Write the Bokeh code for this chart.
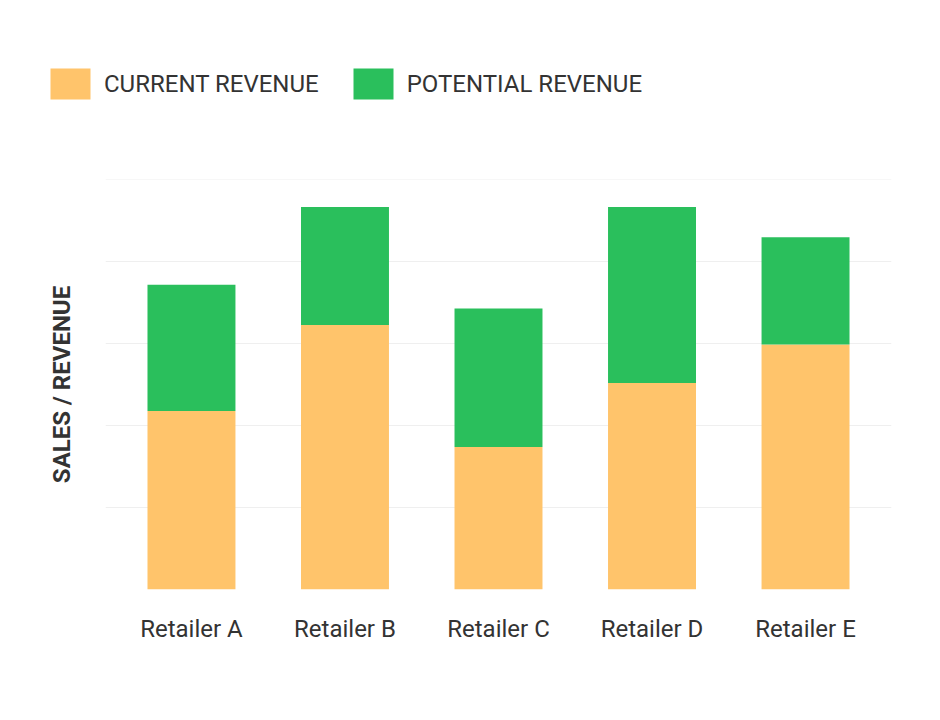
from bokeh.plotting import figure
from bokeh.layouts import column
from bokeh.models import FactorRange, Range1d, FixedTicker, Legend, LegendItem, ColumnDataSource
from bokeh.embed import file_html
from bokeh.resources import INLINE

retailers = ["Retailer A", "Retailer B", "Retailer C", "Retailer D", "Retailer E"]
current_revenue = [21.8, 32.3, 17.4, 25.2, 29.9]
potential_revenue = [15.4, 14.4, 16.9, 21.5, 13.1]
series = ["current", "potential"]
series_labels = ["CURRENT REVENUE", "POTENTIAL REVENUE"]
colors = ["#FFC46B", "#2ABF5C"]
y_ticks = [0, 10, 20, 30, 40, 50]

FONT = "Roboto"
TXT = "#333333"

source = ColumnDataSource(data=dict(x=retailers, current=current_revenue, potential=potential_revenue))

# legend figure
lg = figure(width=940, height=120, output_backend="svg", toolbar_location=None,
            x_range=Range1d(0, 1), y_range=Range1d(0, 1),
            min_border_left=45, min_border_right=0, min_border_top=64, min_border_bottom=0)
lg.frame_align = False
lg.axis.visible = False
lg.grid.visible = False
lg.outline_line_color = None
dummy = ColumnDataSource(data=dict(x=[1000], top=[1000]))
items = []
for lab, col in zip(series_labels, colors):
    r = lg.vbar(x="x", top="top", bottom=999, width=0.1, source=dummy, fill_color=col, line_color=None)
    items.append(LegendItem(label=lab, renderers=[r]))
leg = Legend(items=items, location="top_left", orientation="horizontal",
             glyph_width=50, glyph_height=39, label_text_font=FONT, label_text_font_size="24px",
             label_text_color=TXT, label_standoff=9, spacing=29, margin=0, padding=0,
             border_line_color=None, background_fill_alpha=0, label_height=39)
lg.add_layout(leg)

p = figure(width=940, height=600, output_backend="svg", toolbar_location=None,
           x_range=FactorRange(factors=retailers, range_padding=0.024),
           y_range=Range1d(0, 50.05),
           min_border_left=105, min_border_right=49, min_border_top=59, min_border_bottom=131)
p.frame_align = False
p.vbar_stack(series, x="x", width=0.573, color=colors, source=source, line_color=None)
p.outline_line_color = None
p.xgrid.visible = False
p.ygrid.ticker = FixedTicker(ticks=y_ticks)
p.ygrid.grid_line_color = "#EFEFEF"
p.ygrid.grid_line_width = 1

p.yaxis.ticker = FixedTicker(ticks=[])
p.yaxis.major_tick_line_color = None
p.yaxis.minor_tick_line_color = None
p.yaxis.axis_line_color = None
p.yaxis.axis_label = "SALES / REVENUE"
p.yaxis.axis_label_text_font = FONT
p.yaxis.axis_label_text_font_style = "bold"
p.yaxis.axis_label_text_font_size = "24px"
p.yaxis.axis_label_text_color = TXT
p.yaxis.axis_label_standoff = 30

p.xaxis.axis_line_color = None
p.xaxis.major_tick_line_color = None
p.xaxis.major_label_text_font = FONT
p.xaxis.major_label_text_font_size = "24px"
p.xaxis.major_label_text_color = TXT
p.xaxis.major_label_standoff = 19

layout = column(lg, p, spacing=0)
open("out.html", "w").write(file_html(layout, INLINE))
